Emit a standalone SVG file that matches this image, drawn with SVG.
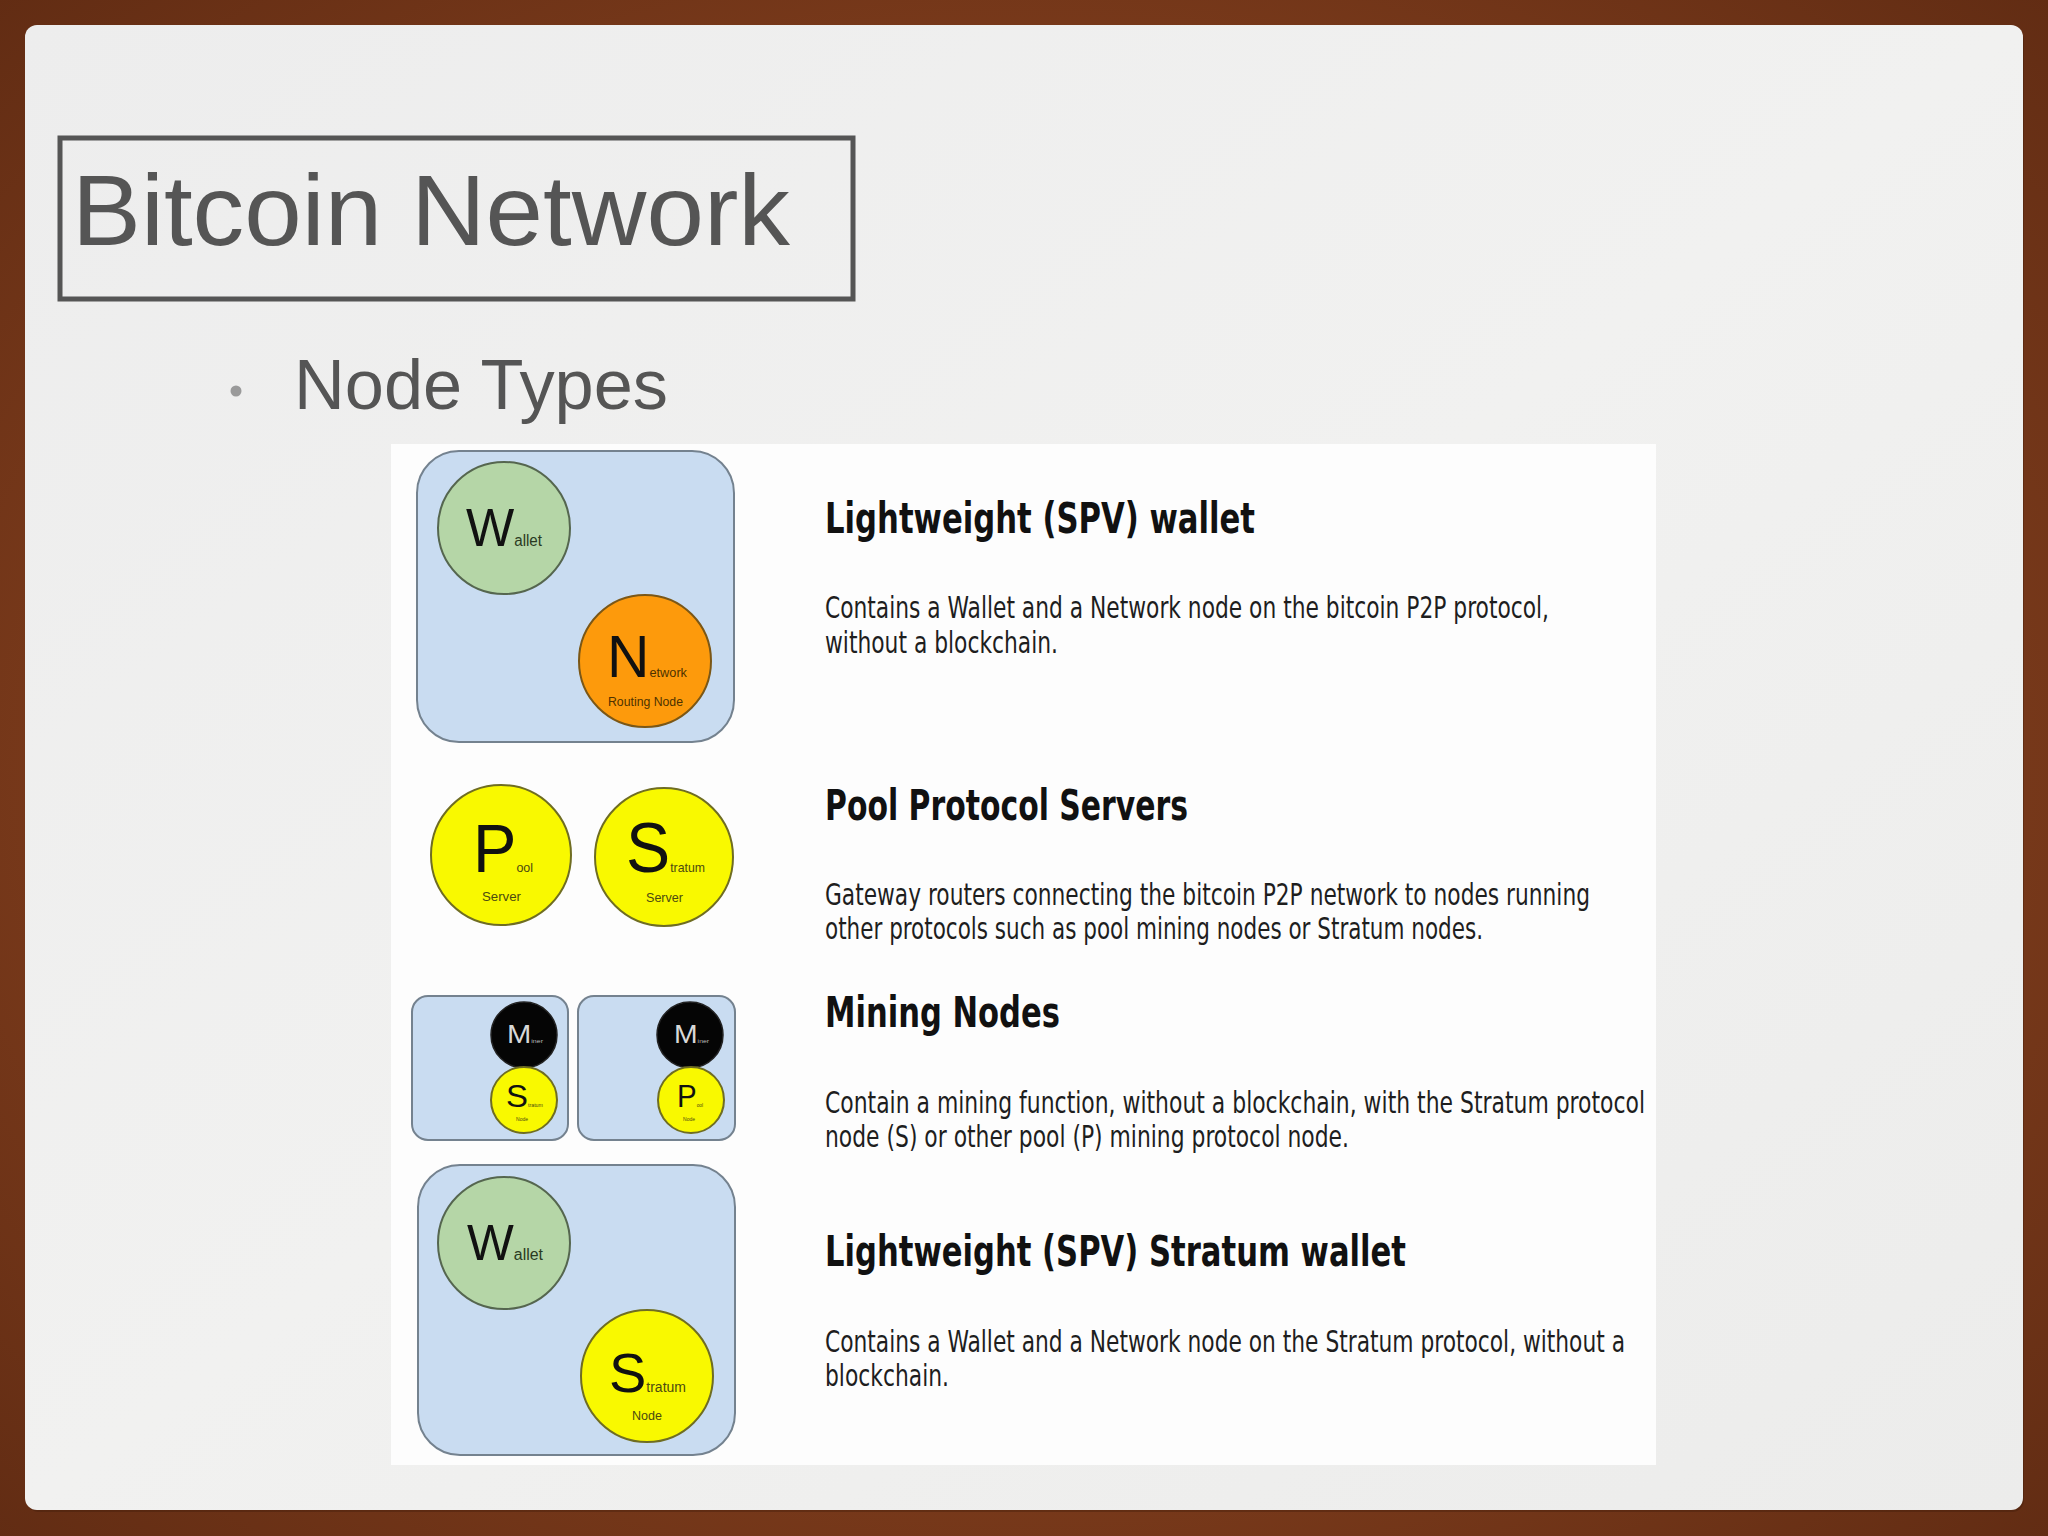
<svg xmlns="http://www.w3.org/2000/svg" width="2048" height="1536" viewBox="0 0 2048 1536">
  <defs>
    <linearGradient id="slideBg" x1="0" y1="0" x2="1" y2="1">
      <stop offset="0" stop-color="#ededed"/>
      <stop offset="0.5" stop-color="#f1f1f0"/>
      <stop offset="1" stop-color="#ececeb"/>
    </linearGradient>
    <radialGradient id="brown" cx="0.5" cy="0.5" r="0.75">
      <stop offset="0.6" stop-color="#7a3a1b"/>
      <stop offset="1" stop-color="#5e2a12"/>
    </radialGradient>
  </defs>
  <style>
    .title { font-family: "Liberation Sans", Arial, sans-serif; fill: #555555; }
    .head { font-family: "Liberation Sans Narrow", "DejaVu Sans Condensed", "Liberation Sans", sans-serif; font-weight: bold; font-size: 42px; fill: #111111; }
    .body { font-family: "Liberation Sans Narrow", "DejaVu Sans Condensed", "Liberation Sans", sans-serif; font-size: 30px; fill: #1e1e1e; }
    .box { fill: #c9dcf1; stroke: #74828f; stroke-width: 2; }
    .big { font-family: "Liberation Sans", Arial, sans-serif; fill: #111111; }
    .sm { font-family: "Liberation Sans", Arial, sans-serif; }
    .green { fill: #b5d6a7; stroke: #55664f; stroke-width: 2; }
    .orange { fill: #fd9a0c; stroke: #7b5716; stroke-width: 2; }
    .yellow { fill: #f9f900; stroke: #6f6d22; stroke-width: 2; }
    .black { fill: #050505; stroke: #222222; stroke-width: 1.5; }
  </style>

  <!-- background frame -->
  <rect x="0" y="0" width="2048" height="1536" fill="url(#brown)"/>
  <rect x="27" y="28" width="1997" height="1484" rx="12" fill="#3c1a0a" opacity="0.35"/>
  <rect x="25" y="25" width="1998" height="1485" rx="12" fill="url(#slideBg)"/>

  <!-- title -->
  <g id="title">
    <rect x="60" y="138" width="793" height="161" fill="none" stroke="#555555" stroke-width="5"/>
    <text class="title" x="72" y="245" font-size="100" textLength="718" lengthAdjust="spacingAndGlyphs">Bitcoin Network</text>
  </g>

  <g id="bullet">
    <circle cx="236" cy="391" r="5.5" fill="#9a9a9a"/>
    <text class="title" x="294" y="409" font-size="70" textLength="374" lengthAdjust="spacingAndGlyphs">Node Types</text>
  </g>

  <!-- image panel -->
  <rect x="391" y="444" width="1265" height="1021" fill="#fdfdfd"/>

  <!-- Lightweight SPV wallet -->
  <g id="spv-wallet">
    <rect class="box" x="417" y="451" width="317" height="291" rx="42"/>
    <circle class="green" cx="504" cy="528" r="66"/>
    <text class="big" x="466" y="546" font-size="54" textLength="76" lengthAdjust="spacingAndGlyphs">W<tspan font-size="16" fill="#2a3a22">allet</tspan></text>
    <circle class="orange" cx="645" cy="661" r="66"/>
    <text class="big" x="607" y="677" font-size="60" textLength="80" lengthAdjust="spacingAndGlyphs">N<tspan font-size="13" fill="#4e3200">etwork</tspan></text>
    <text class="sm" x="608" y="706" font-size="12" fill="#4e3200" textLength="75" lengthAdjust="spacingAndGlyphs">Routing Node</text>
  </g>

  <!-- Pool protocol servers -->
  <g id="pool-server">
    <circle class="yellow" cx="501" cy="855" r="70"/>
    <text class="big" x="473" y="872" font-size="68" textLength="60" lengthAdjust="spacingAndGlyphs">P<tspan font-size="13" fill="#4c4a10">ool</tspan></text>
    <text class="sm" x="482" y="901" font-size="13" fill="#4c4a10" textLength="39" lengthAdjust="spacingAndGlyphs">Server</text>
  </g>
  <g id="stratum-server">
    <circle class="yellow" cx="664" cy="857" r="69"/>
    <text class="big" x="626" y="872" font-size="70" textLength="79" lengthAdjust="spacingAndGlyphs">S<tspan font-size="13" fill="#4c4a10">tratum</tspan></text>
    <text class="sm" x="646" y="902" font-size="13" fill="#4c4a10" textLength="37" lengthAdjust="spacingAndGlyphs">Server</text>
  </g>

  <!-- Mining nodes -->
  <g id="miner-stratum">
    <rect class="box" x="412" y="996" width="156" height="144" rx="16"/>
    <circle class="black" cx="524" cy="1035" r="33"/>
    <text class="sm" x="507" y="1043" font-size="25" fill="#d8d8d8" textLength="36" lengthAdjust="spacingAndGlyphs">M<tspan font-size="6" fill="#bbbbbb">iner</tspan></text>
    <circle class="yellow" cx="524" cy="1100" r="33"/>
    <text class="big" x="506" y="1107" font-size="31" textLength="37" lengthAdjust="spacingAndGlyphs">S<tspan font-size="5" fill="#4c4a10">tratum</tspan></text>
    <text class="sm" x="516" y="1121" font-size="5" fill="#4c4a10" textLength="12" lengthAdjust="spacingAndGlyphs">Node</text>
  </g>
  <g id="miner-pool">
    <rect class="box" x="578" y="996" width="157" height="144" rx="16"/>
    <circle class="black" cx="690" cy="1035" r="33"/>
    <text class="sm" x="674" y="1043" font-size="25" fill="#d8d8d8" textLength="35" lengthAdjust="spacingAndGlyphs">M<tspan font-size="6" fill="#bbbbbb">iner</tspan></text>
    <circle class="yellow" cx="691" cy="1100" r="33"/>
    <text class="big" x="677" y="1107" font-size="31" textLength="26" lengthAdjust="spacingAndGlyphs">P<tspan font-size="5" fill="#4c4a10">ool</tspan></text>
    <text class="sm" x="683" y="1121" font-size="5" fill="#4c4a10" textLength="12" lengthAdjust="spacingAndGlyphs">Node</text>
  </g>

  <!-- Lightweight SPV Stratum wallet -->
  <g id="spv-stratum-wallet">
    <rect class="box" x="418" y="1165" width="317" height="290" rx="42"/>
    <circle class="green" cx="504" cy="1243" r="66"/>
    <text class="big" x="467" y="1260" font-size="50" textLength="76" lengthAdjust="spacingAndGlyphs">W<tspan font-size="16" fill="#2a3a22">allet</tspan></text>
    <circle class="yellow" cx="647" cy="1376" r="66"/>
    <text class="big" x="609" y="1392" font-size="56" textLength="77" lengthAdjust="spacingAndGlyphs">S<tspan font-size="14" fill="#4c4a10">tratum</tspan></text>
    <text class="sm" x="632" y="1420" font-size="13" fill="#4c4a10" textLength="30" lengthAdjust="spacingAndGlyphs">Node</text>
  </g>

  <!-- descriptions -->
  <g id="desc-spv-wallet">
    <text class="head" x="825" y="533" textLength="430" lengthAdjust="spacingAndGlyphs">Lightweight (SPV) wallet</text>
    <text class="body" x="825" y="618" textLength="724" lengthAdjust="spacingAndGlyphs">Contains a Wallet and a Network node on the bitcoin P2P protocol,</text>
    <text class="body" x="825" y="653" textLength="233" lengthAdjust="spacingAndGlyphs">without a blockchain.</text>
  </g>
  <g id="desc-pool">
    <text class="head" x="825" y="820" textLength="363" lengthAdjust="spacingAndGlyphs">Pool Protocol Servers</text>
    <text class="body" x="825" y="905" textLength="765" lengthAdjust="spacingAndGlyphs">Gateway routers connecting the bitcoin P2P network to nodes running</text>
    <text class="body" x="825" y="939" textLength="658" lengthAdjust="spacingAndGlyphs">other protocols such as pool mining nodes or Stratum nodes.</text>
  </g>
  <g id="desc-mining">
    <text class="head" x="825" y="1027" textLength="235" lengthAdjust="spacingAndGlyphs">Mining Nodes</text>
    <text class="body" x="825" y="1113" textLength="820" lengthAdjust="spacingAndGlyphs">Contain a mining function, without a blockchain, with the Stratum protocol</text>
    <text class="body" x="825" y="1147" textLength="524" lengthAdjust="spacingAndGlyphs">node (S) or other pool (P) mining protocol node.</text>
  </g>
  <g id="desc-stratum-wallet">
    <text class="head" x="825" y="1266" textLength="581" lengthAdjust="spacingAndGlyphs">Lightweight (SPV) Stratum wallet</text>
    <text class="body" x="825" y="1352" textLength="800" lengthAdjust="spacingAndGlyphs">Contains a Wallet and a Network node on the Stratum protocol, without a</text>
    <text class="body" x="825" y="1386" textLength="124" lengthAdjust="spacingAndGlyphs">blockchain.</text>
  </g>

  <g id="connectors"></g>
</svg>
